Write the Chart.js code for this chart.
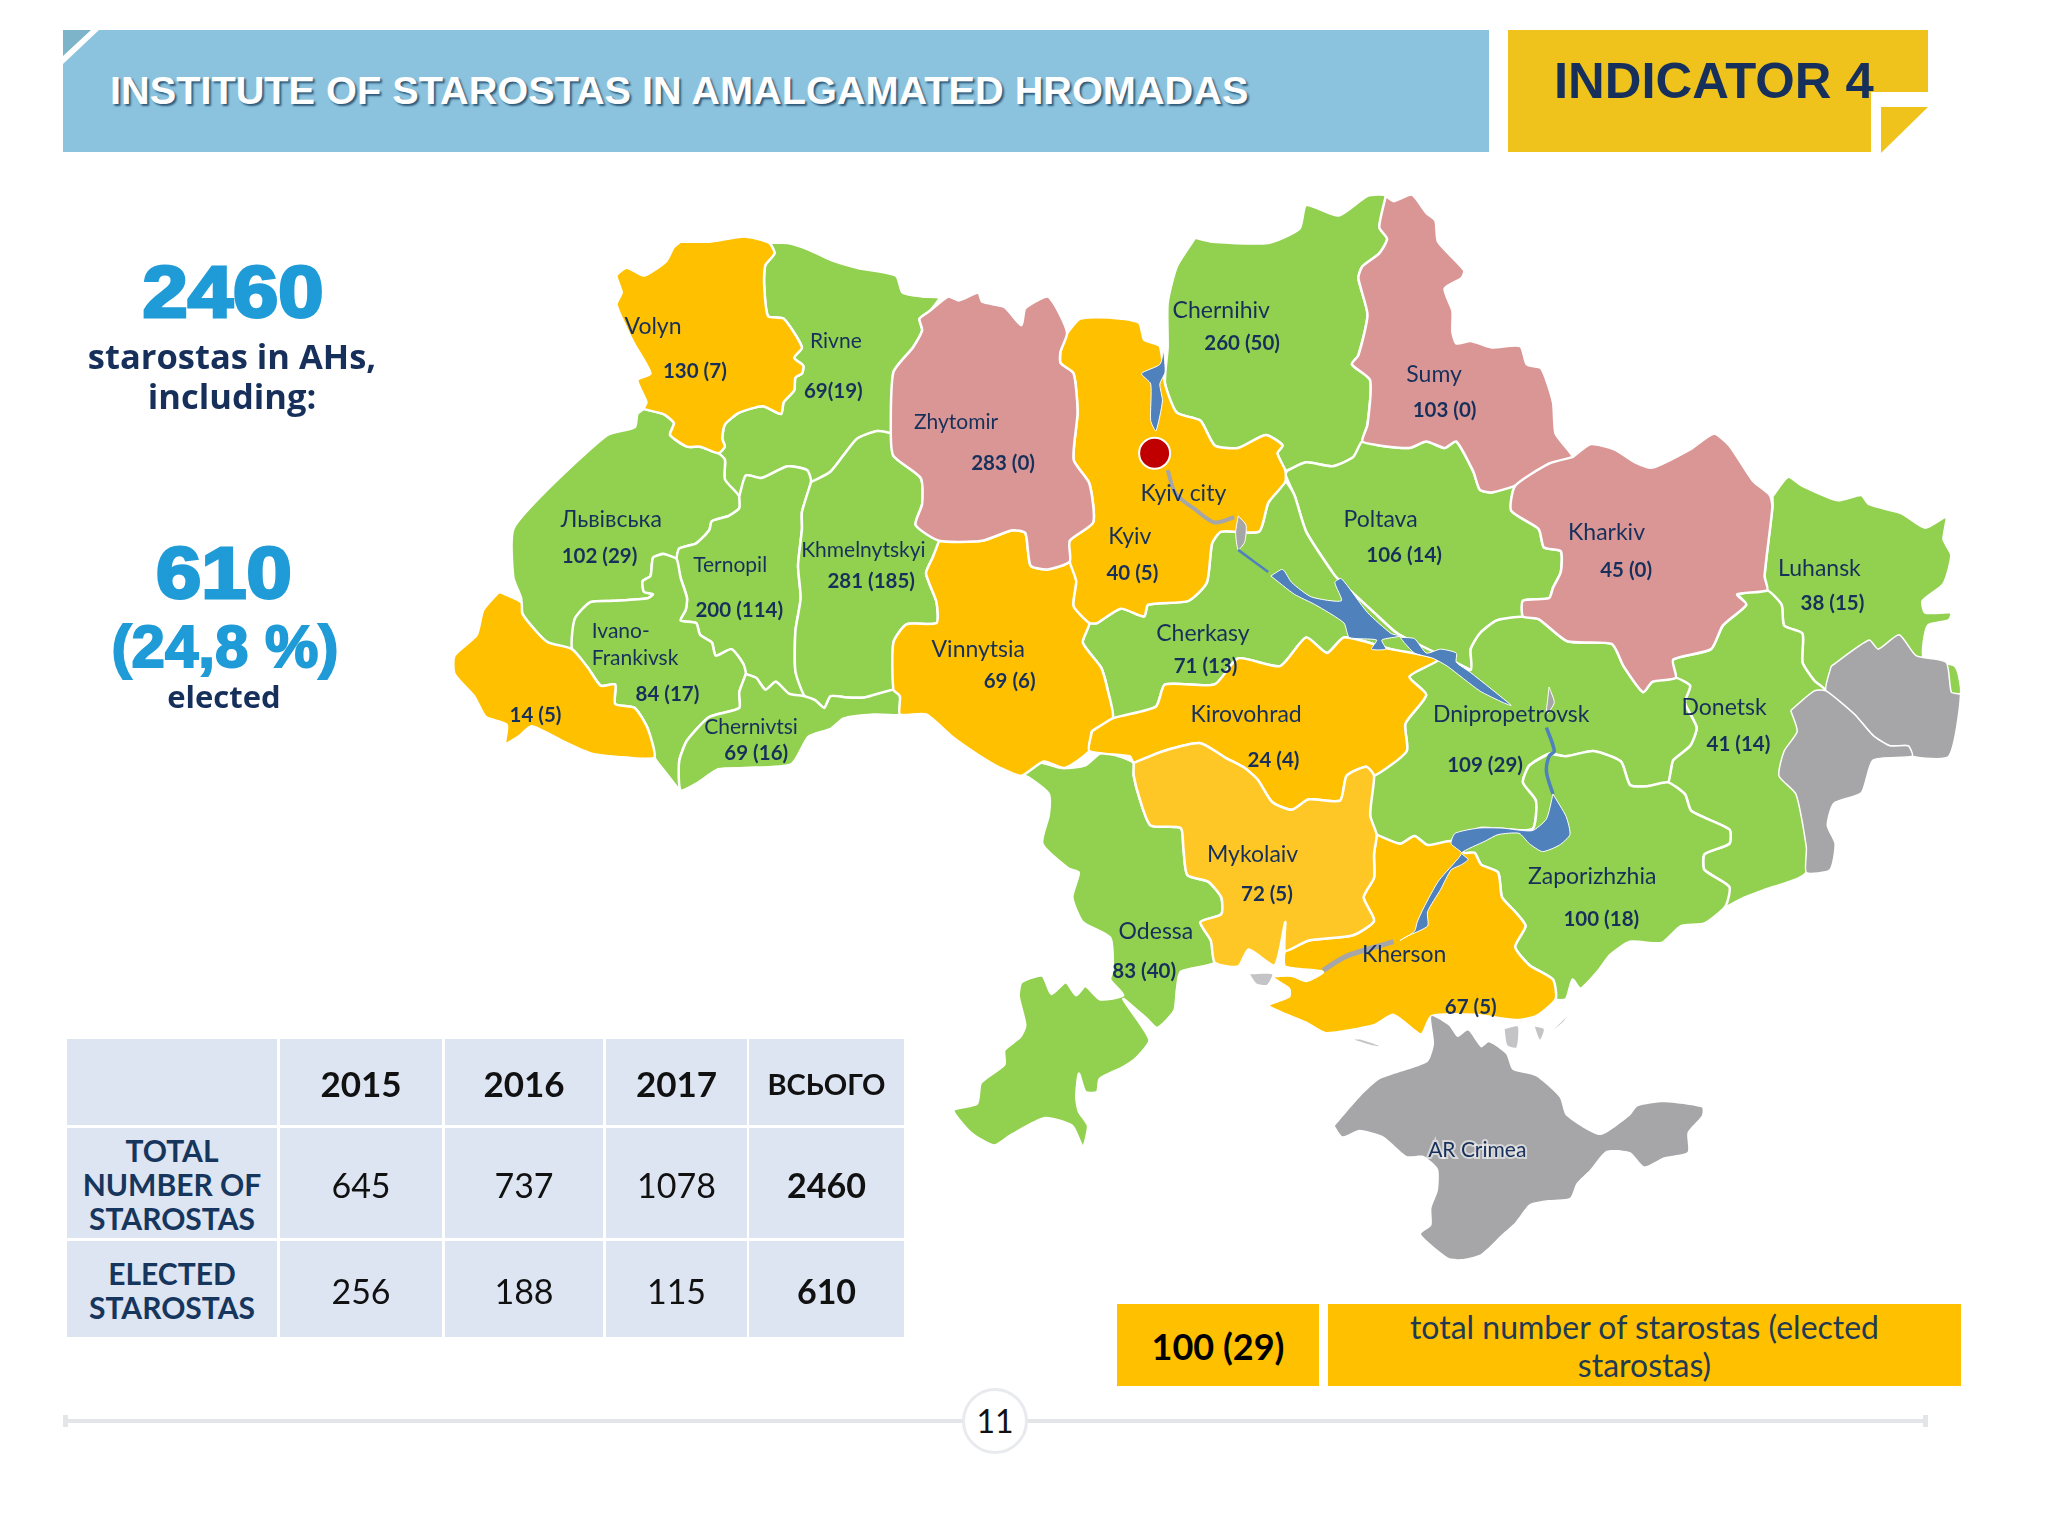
<!DOCTYPE html>
<html>
<head>
<meta charset="utf-8">
<title>Institute of starostas in amalgamated hromadas</title>
<script src="https://cdn.jsdelivr.net/npm/chart.js@4/dist/chart.umd.min.js"></script>
<style>
  html, body { margin: 0; padding: 0; background: #fff; }
  #page { position: relative; width: 2048px; height: 1536px; overflow: hidden; font-family: Lato, sans-serif; }
  #map { position: absolute; left: 0; top: 0; }
  .abs { position: absolute; }
  .head-blue { left: 63px; top: 30px; width: 1426px; height: 122px; background: #8bc3df; }
  .fold-blue { left: 63px; top: 30px; width: 36px; height: 34px; background: #fff; clip-path: polygon(0 0, 100% 0, 0 100%); }
  .fold-blue-in { left: 63px; top: 30px; width: 28px; height: 26px; background: #7db4c9; clip-path: polygon(0 0, 100% 0, 0 100%); }
  .title { left: 110px; top: 68px; font: bold 39.7px "Liberation Sans", sans-serif; color: #fff; text-shadow: 2px 2px 2px #2f5a78; white-space: nowrap; }
  .head-yellow { left: 1508px; top: 30px; width: 420px; height: 62px; background: #efc31b; }
  .head-yellow2 { left: 1508px; top: 92px; width: 363px; height: 60px; background: #efc31b; }
  .fold-yellow { left: 1881px; top: 107px; width: 47px; height: 46px; background: #efc31b; clip-path: polygon(0 0, 100% 0, 0 100%); }
  .indicator { left: 1554px; top: 51px; font: bold 50.8px "Liberation Sans", sans-serif; color: #17305b; white-space: nowrap; }
  .big { font: bold 72px "Liberation Sans", sans-serif; color: #1f9bd7; -webkit-text-stroke: 3px #1f9bd7; text-align: center; white-space: nowrap; }
  .wide { transform: scaleX(1.13); }
  .navy { font: bold 34.5px "Open Sans", sans-serif; color: #17305b; text-align: center; white-space: nowrap; line-height: 40px; }
  #stats { left: 67px; top: 1039px; width: 837px; height: 298px; }
  .cell { position: absolute; box-sizing: border-box; padding-top: 2px; background: #dde5f2; display: flex; align-items: center; justify-content: center; text-align: center; font-size: 34px; color: #111; }
  .cell.year { font-weight: bold; font-size: 35px; }
  .cell.sum { font-weight: bold; }
  .cell.row { font-weight: bold; font-size: 30px; line-height: 34px; color: #17365d; }
  .key { background: #ffc000; box-sizing: border-box; padding-top: 2px; display: flex; align-items: center; justify-content: center; text-align: center; }
  .foot { top: 1419px; height: 4px; background: #e3e5e8; }
  .cap { top: 1415px; width: 5px; height: 12px; background: #e3e5e8; }
  .page-no { left: 962px; top: 1388px; width: 60px; height: 60px; border: 3px solid #e8eaed; border-radius: 50%; background: #fff; text-align: center; line-height: 60px; font-size: 32px; color: #111; }
</style>
</head>
<body>
<div id="page">
  <canvas id="map" width="2048" height="1536"></canvas>

  <div class="abs head-blue"></div>
  <div class="abs fold-blue"></div>
  <div class="abs fold-blue-in"></div>
  <div class="abs title">INSTITUTE OF STAROSTAS IN AMALGAMATED HROMADAS</div>
  <div class="abs head-yellow"></div>
  <div class="abs head-yellow2"></div>
  <div class="abs fold-yellow"></div>
  <div class="abs indicator">INDICATOR 4</div>

  <div class="abs big wide" style="left:133px;top:251px;width:200px" id="totalBig"></div>
  <div class="abs navy" style="left:82px;top:336px;width:300px">starostas in AHs,<br>including:</div>
  <div class="abs big wide" style="left:124px;top:532px;width:200px" id="electedBig"></div>
  <div class="abs big" style="left:105px;top:612px;width:240px;font-size:60px;-webkit-text-stroke-width:2px">(24,8 %)</div>
  <div class="abs navy" style="left:124px;top:676px;width:200px;font-size:31px">elected</div>

  <div class="abs" id="stats"></div>

  <div class="abs key" style="left:1117px;top:1304px;width:202px;height:82px;font-weight:bold;font-size:36px;color:#000">100 (29)</div>
  <div class="abs key" style="left:1328px;top:1304px;width:633px;height:82px;font-size:32px;line-height:38px;color:#1f3a52">total number of starostas (elected<br>starostas)</div>

  <div class="abs foot" style="left:64px;width:900px"></div>
  <div class="abs foot" style="left:1024px;width:904px"></div>
  <div class="abs cap" style="left:63px"></div>
  <div class="abs cap" style="left:1923px"></div>
  <div class="abs page-no">11</div>
</div>

<script>
// Table values
const years = ['2015', '2016', '2017', 'ВСЬОГО'];
const totalByYear = [645, 737, 1078, 2460];
const electedByYear = [256, 188, 115, 610];

// Regions: name, total starostas, elected starostas
const regionNames = ['Volyn', 'Rivne', 'Zhytomir', 'Львівська', 'Ternopil', 'Khmelnytskyi', 'Ivano-\nFrankivsk', '', 'Chernivtsi', 'Vinnytsia', 'Kyiv', 'Chernihiv', 'Sumy', 'Poltava', 'Kharkiv', 'Luhansk', 'Cherkasy', 'Kirovohrad', 'Dnipropetrovsk', 'Donetsk', 'Mykolaiv', 'Odessa', 'Kherson', 'Zaporizhzhia'];
const totals = [130, 69, 283, 102, 200, 281, 84, 14, 69, 69, 40, 260, 103, 106, 45, 38, 71, 24, 109, 41, 72, 83, 67, 100];
const elected = [7, 19, 0, 29, 114, 185, 17, 5, 16, 6, 5, 50, 0, 14, 0, 15, 13, 4, 29, 14, 5, 40, 5, 18];

// Map outlines
const volyn = [[521,185],[543,185],[570,181],[589,186],[593,194],[586,203],[585,217],[588,242],[600,244],[614,266],[608,274],[615,280],[614,286],[609,289],[608,299],[600,308],[598,317],[584,311],[566,316],[555,325],[553,336],[555,342],[550,347],[536,342],[526,342],[513,333],[516,324],[508,317],[493,313],[495,308],[488,291],[498,286],[486,264],[480,252],[472,233],[476,224],[472,211],[480,205],[493,211],[510,200],[516,189]];
const rivne = [[589,186],[603,186],[619,191],[636,199],[656,205],[686,211],[691,224],[706,227],[719,228],[712,238],[704,244],[706,253],[699,266],[684,285],[684,333],[672,330],[656,336],[636,361],[621,369],[618,360],[603,357],[583,366],[571,364],[566,380],[555,367],[555,352],[550,347],[555,342],[553,336],[555,325],[566,316],[584,311],[598,317],[600,308],[608,299],[609,289],[614,286],[615,280],[608,274],[614,266],[600,244],[588,242],[585,217],[586,203],[593,194]];
const zhytomir = [[712,238],[726,227],[734,230],[749,224],[752,231],[769,235],[782,249],[785,236],[802,227],[809,236],[817,255],[812,269],[812,278],[822,286],[825,316],[822,352],[834,370],[837,400],[819,414],[819,430],[802,436],[789,433],[785,408],[775,406],[752,414],[719,414],[701,402],[706,386],[705,366],[684,349],[682,330],[684,285],[699,266],[706,253],[704,244]];
const lviv = [[493,313],[508,317],[516,324],[513,333],[526,342],[536,342],[550,347],[555,352],[555,367],[566,380],[566,389],[558,395],[545,399],[543,406],[533,416],[520,420],[518,428],[508,424],[500,427],[498,441],[492,445],[493,453],[500,455],[496,458],[470,460],[452,461],[440,474],[438,497],[420,492],[412,485],[400,470],[399,458],[393,442],[393,405],[420,374],[465,333],[486,327],[488,317]];
const zakarpattia = [[382,453],[399,461],[400,470],[412,485],[420,492],[438,497],[450,511],[460,525],[471,524],[471,539],[486,542],[496,558],[501,580],[480,580],[453,577],[430,567],[407,556],[397,564],[387,569],[388,555],[372,549],[363,533],[348,516],[348,502],[365,486],[370,467]];
const ivanoFrankivsk = [[508,424],[518,428],[521,442],[526,458],[525,467],[521,475],[533,477],[536,486],[545,492],[548,502],[560,497],[569,508],[571,516],[566,530],[566,542],[543,549],[526,567],[520,583],[521,605],[510,592],[501,580],[496,558],[486,542],[471,539],[471,524],[460,525],[450,511],[438,497],[440,474],[452,461],[470,460],[496,458],[500,455],[493,453],[492,445],[498,441],[500,427]];
const ternopil = [[566,380],[571,364],[583,366],[603,357],[618,360],[621,369],[614,392],[614,405],[611,433],[613,458],[609,483],[609,514],[616,533],[604,531],[594,522],[586,528],[579,519],[571,516],[569,508],[560,497],[548,502],[545,492],[536,486],[533,477],[521,475],[525,467],[526,458],[521,442],[518,428],[520,420],[533,416],[543,406],[545,399],[558,395],[566,389]];
const khmelnytskyi = [[621,369],[636,361],[656,336],[672,330],[684,333],[684,349],[705,366],[706,386],[701,402],[719,414],[714,427],[709,439],[717,461],[717,477],[694,478],[684,492],[684,528],[662,534],[648,534],[636,533],[631,542],[624,536],[616,533],[609,514],[609,483],[613,458],[611,433],[614,405],[614,392]];
const chernivtsi = [[571,516],[579,519],[586,528],[594,522],[604,531],[616,533],[624,536],[631,542],[636,533],[648,534],[662,534],[684,528],[689,533],[689,547],[669,547],[646,550],[636,558],[619,564],[606,585],[570,588],[550,589],[533,600],[521,605],[520,583],[526,567],[543,549],[566,542],[566,530]];
const vinnytsia = [[719,414],[752,414],[775,406],[785,408],[789,433],[802,436],[819,430],[824,445],[822,464],[834,477],[829,492],[843,511],[848,528],[852,550],[836,560],[834,575],[815,588],[799,583],[782,594],[766,588],[749,578],[729,564],[709,547],[689,547],[689,533],[684,528],[684,492],[694,478],[717,477],[717,461],[709,439],[714,427]];
const kyiv = [[817,255],[827,244],[849,243],[872,247],[876,260],[888,265],[892,294],[901,316],[919,322],[930,341],[948,343],[969,333],[982,341],[978,347],[984,360],[984,369],[971,385],[964,407],[935,407],[928,416],[924,446],[910,460],[879,463],[876,472],[858,466],[840,477],[834,477],[822,464],[824,445],[819,430],[819,414],[837,400],[834,370],[822,352],[825,316],[822,286],[812,278],[812,269]];
const chernihiv = [[915,182],[928,185],[971,186],[995,175],[1000,157],[1025,165],[1047,150],[1061,150],[1056,174],[1062,183],[1056,194],[1043,204],[1040,213],[1047,241],[1040,272],[1035,279],[1049,291],[1047,325],[1043,338],[1036,350],[1020,357],[1000,354],[986,360],[984,360],[978,347],[982,341],[969,333],[948,343],[930,341],[919,322],[901,316],[892,294],[894,266],[894,232],[901,204]];
const sumy = [[1061,150],[1067,154],[1081,149],[1092,163],[1099,169],[1101,185],[1121,207],[1119,213],[1106,221],[1112,238],[1112,254],[1115,263],[1126,261],[1142,266],[1164,265],[1169,279],[1180,282],[1189,308],[1191,332],[1204,350],[1186,355],[1162,371],[1142,377],[1133,375],[1128,361],[1115,338],[1106,343],[1092,338],[1079,343],[1056,341],[1043,338],[1047,325],[1049,291],[1035,279],[1040,272],[1047,241],[1040,213],[1043,204],[1056,194],[1062,183],[1056,174]];
const poltava = [[986,360],[1000,354],[1020,357],[1036,350],[1043,338],[1056,341],[1079,343],[1092,338],[1106,343],[1115,338],[1128,361],[1133,375],[1142,377],[1160,372],[1157,391],[1178,405],[1182,419],[1195,422],[1195,438],[1189,450],[1186,458],[1166,460],[1166,472],[1146,475],[1133,485],[1126,497],[1126,513],[1070,485],[1052,469],[1025,444],[1020,438],[1000,407],[991,379],[984,363]];
const kharkiv = [[1204,350],[1218,340],[1236,344],[1252,354],[1265,358],[1294,344],[1312,332],[1324,341],[1342,368],[1355,379],[1357,388],[1351,441],[1353,452],[1330,455],[1337,463],[1319,479],[1310,497],[1281,505],[1283,519],[1265,522],[1258,530],[1243,510],[1234,493],[1200,491],[1178,474],[1166,472],[1166,460],[1186,458],[1189,450],[1195,438],[1195,422],[1182,419],[1178,405],[1157,391],[1160,372],[1186,355]];
const luhansk = [[1357,380],[1369,365],[1380,372],[1407,383],[1425,379],[1431,386],[1456,393],[1474,404],[1490,396],[1488,413],[1494,425],[1488,447],[1472,460],[1474,469],[1494,469],[1492,475],[1476,479],[1473,504],[1497,510],[1500,532],[1398,529],[1389,521],[1380,507],[1380,485],[1366,479],[1364,463],[1353,452],[1351,441],[1357,388]];
const donetsk = [[1330,455],[1353,452],[1364,463],[1366,479],[1380,485],[1380,507],[1389,521],[1398,529],[1400,560],[1383,668],[1352,681],[1334,688],[1321,694],[1324,679],[1305,666],[1305,654],[1324,646],[1324,635],[1295,621],[1290,608],[1277,599],[1279,591],[1281,582],[1294,571],[1299,557],[1290,538],[1294,525],[1283,519],[1281,505],[1310,497],[1319,479],[1337,463]];
const cherkasy = [[834,477],[840,477],[858,466],[876,472],[879,463],[910,460],[924,446],[928,416],[935,407],[964,407],[971,385],[984,369],[991,379],[1000,407],[1020,438],[1025,444],[1052,469],[1070,485],[1126,513],[1101,505],[1065,497],[1029,488],[1016,500],[1000,488],[980,510],[948,504],[930,524],[892,524],[885,541],[852,550],[848,528],[843,511],[829,492]];
const kirovohrad = [[836,560],[852,550],[885,541],[892,524],[930,524],[948,504],[980,510],[1000,488],[1016,500],[1029,488],[1065,497],[1101,505],[1079,518],[1092,532],[1076,554],[1077,575],[1052,594],[1046,587],[1031,594],[1026,613],[1002,612],[989,620],[974,614],[963,597],[953,588],[938,580],[919,569],[891,575],[868,584],[865,579],[834,575]];
const dnipropetrovsk = [[1101,505],[1126,513],[1126,497],[1133,485],[1146,475],[1166,472],[1178,474],[1200,491],[1234,493],[1243,510],[1258,530],[1265,522],[1283,519],[1294,525],[1290,538],[1299,557],[1294,571],[1281,582],[1279,591],[1277,599],[1261,602],[1248,601],[1241,583],[1220,575],[1199,579],[1186,577],[1171,586],[1166,599],[1176,613],[1173,635],[1134,634],[1111,644],[1093,647],[1083,640],[1072,646],[1054,639],[1049,624],[1052,594],[1077,575],[1076,554],[1092,532],[1079,518]];
const zaporizhzhia = [[1186,577],[1199,579],[1220,575],[1241,583],[1248,601],[1261,602],[1277,599],[1290,608],[1295,621],[1324,635],[1324,646],[1305,654],[1305,666],[1324,679],[1321,694],[1305,707],[1287,709],[1272,722],[1248,721],[1233,731],[1223,744],[1210,757],[1204,750],[1199,765],[1191,765],[1189,750],[1171,739],[1160,725],[1168,709],[1160,698],[1150,687],[1147,668],[1134,662],[1129,653],[1121,653],[1111,644],[1134,634],[1173,635],[1176,613],[1166,599],[1171,586]];
const kherson = [[1054,639],[1072,646],[1083,640],[1093,647],[1111,644],[1121,653],[1129,653],[1134,662],[1147,668],[1150,687],[1160,698],[1168,709],[1160,725],[1171,739],[1189,750],[1191,765],[1176,778],[1160,781],[1129,777],[1096,778],[1088,792],[1067,777],[1052,785],[1015,791],[1000,783],[971,770],[987,763],[987,757],[974,748],[989,747],[1000,751],[1013,744],[984,740],[984,728],[1002,720],[1036,716],[1052,705],[1044,687],[1052,672],[1052,654]];
const mykolaiv = [[868,584],[891,575],[919,569],[938,580],[953,588],[963,597],[974,614],[989,620],[1002,612],[1026,613],[1031,594],[1046,587],[1052,594],[1049,624],[1054,639],[1052,654],[1052,672],[1044,687],[1052,705],[1036,716],[1002,720],[984,728],[984,706],[976,739],[956,727],[948,740],[930,737],[927,720],[919,706],[935,700],[935,687],[925,675],[909,670],[906,649],[904,634],[881,632],[873,613],[868,594]];
const odessa = [[782,594],[792,583],[813,588],[831,586],[844,576],[868,584],[868,594],[873,613],[881,632],[904,634],[906,649],[909,670],[925,675],[935,687],[935,700],[919,706],[927,720],[930,737],[904,744],[901,758],[899,774],[886,787],[878,780],[860,765],[880,796],[870,810],[860,817],[842,826],[840,836],[831,836],[826,822],[824,840],[826,851],[833,862],[829,878],[821,862],[800,856],[774,869],[761,877],[743,867],[730,850],[748,845],[751,829],[769,815],[769,804],[781,794],[785,785],[780,763],[782,752],[798,747],[805,761],[816,752],[824,762],[831,755],[842,765],[860,762],[850,750],[852,742],[850,718],[829,706],[821,687],[826,668],[818,665],[798,646],[803,624],[803,608],[787,595]];

// Grey areas
const crimea = [[1022,862],[1041,840],[1057,826],[1093,813],[1098,799],[1096,778],[1109,785],[1116,794],[1124,789],[1134,802],[1140,798],[1153,807],[1158,819],[1176,824],[1194,840],[1199,854],[1225,869],[1248,854],[1254,847],[1274,844],[1303,848],[1303,854],[1292,867],[1292,882],[1274,886],[1259,893],[1248,882],[1230,881],[1217,896],[1207,906],[1202,917],[1184,919],[1171,922],[1160,936],[1150,945],[1134,960],[1119,964],[1109,963],[1088,945],[1096,938],[1096,925],[1101,911],[1101,895],[1090,885],[1077,885],[1059,870],[1041,865],[1028,870]];
const luhanskOccupied = [[1402,510],[1431,490],[1438,497],[1454,486],[1467,502],[1490,507],[1494,530],[1501,532],[1492,579],[1464,579],[1461,571],[1447,571],[1434,563],[1420,547],[1398,529]];
const donetskOccupied = [[1371,544],[1389,529],[1398,529],[1420,547],[1434,563],[1447,571],[1461,571],[1464,579],[1434,582],[1425,607],[1404,615],[1399,632],[1405,646],[1401,666],[1383,668],[1383,649],[1375,608],[1362,594],[1366,575],[1376,560]];
const shoalOne = [[957,746],[974,746],[970,754],[962,753]];
const shoalTwo = [[1037,796],[1050,800],[1056,801],[1054,800],[1042,796]];
const shoalThree = [[1152,788],[1162,786],[1161,802],[1154,800]];
const shoalFour = [[1175,786],[1182,788],[1179,796]];
const shoalFive = [[1190,788],[1199,779],[1197,782]];
const reservoirLens = [[948,395],[954,402],[953,415],[948,421],[946,408]];
const dniproLens = [[1186,526],[1190,538],[1184,547],[1185,535]];

// Water
const kyivReservoir = [[891,268],[888,279],[874,286],[881,294],[881,322],[885,330],[890,307],[888,294],[892,285]];
const kremenchukReservoir = [[973,441],[982,436],[989,446],[1004,457],[1027,460],[1022,446],[1027,443],[1047,469],[1065,485],[1072,487],[1058,490],[1061,497],[1050,497],[1054,490],[1033,488],[1029,477],[1007,463],[991,455]];
const kamianskeReservoir = [[1072,488],[1083,489],[1092,500],[1103,497],[1115,500],[1115,507],[1126,515],[1157,540],[1151,538],[1133,529],[1108,510],[1097,504],[1083,500],[1076,493]];
const kakhovkaReservoir = [[1189,608],[1199,625],[1202,639],[1194,647],[1181,652],[1171,646],[1163,638],[1147,639],[1137,644],[1119,653],[1124,658],[1119,662],[1111,666],[1103,681],[1093,698],[1093,709],[1077,717],[1072,720],[1083,713],[1085,706],[1090,695],[1101,675],[1114,660],[1119,653],[1111,646],[1114,638],[1132,634],[1150,634],[1173,636],[1184,627]];
const dniproUpper = [[1184,557],[1190,575],[1186,579],[1184,591],[1189,608]];
const dniproThin = [[948,421],[971,438]];
const kyivStream = [[894,360],[900,378],[915,390],[930,400],[945,396]];
const khersonStream = [[1013,743],[1031,732],[1067,721]];
const arabatSpit = [[1196,836],[1210,855],[1226,868]];

const capital = [[884,347]];

// Label anchors in the same map units, by region order
const nameAnchors = [[500,250],[640,261],[732,323],[468,398],[559,433],[661,421],[453,494],[0,0],[575,557],[749,497],[865,411],[935,238],[1098,287],[1057,398],[1230,408],[1393,435],[921,485],[954,547],[1157,547],[1320,542],[959,654],[885,713],[1075,731],[1219,671]];
const valueAnchors = [[532,284],[638,300],[768,355],[459,426],[566,467],[667,445],[511,532],[410,548],[579,577],[773,522],[867,439],[951,263],[1106,314],[1075,425],[1245,437],[1403,462],[923,510],[975,582],[1137,586],[1331,570],[970,685],[876,744],[1126,771],[1226,704]];

const GREEN = '#92d050', YELLOW = '#ffc000', PINK = '#d99694', GREY = '#a6a6a8', BLUE = '#4f81bd', PALE = '#c4c4c6', MYK = '#ffc726';

function outline(points, color, borderColor, borderWidth) {
  const closed = points.concat([points[0]]);
  return {
    data: closed.map(p => ({ x: p[0], y: p[1] })),
    showLine: true,
    fill: 'shape',
    backgroundColor: color,
    borderColor: borderColor,
    borderWidth: borderWidth,
    pointRadius: 0,
    tension: 0.2
  };
}

function stroke(points, color, width) {
  return {
    data: points.map(p => ({ x: p[0], y: p[1] })),
    showLine: true,
    fill: false,
    borderColor: color,
    borderWidth: width,
    pointRadius: 0,
    tension: 0.3
  };
}

const WHITE = '#ffffff';
const layers = [
  outline(rivne, GREEN, WHITE, 2.5),
  outline(lviv, GREEN, WHITE, 2.5),
  outline(ternopil, GREEN, WHITE, 2.5),
  outline(khmelnytskyi, GREEN, WHITE, 2.5),
  outline(ivanoFrankivsk, GREEN, WHITE, 2.5),
  outline(chernivtsi, GREEN, WHITE, 2.5),
  outline(chernihiv, GREEN, WHITE, 2.5),
  outline(poltava, GREEN, WHITE, 2.5),
  outline(luhansk, GREEN, WHITE, 2.5),
  outline(donetsk, GREEN, WHITE, 2.5),
  outline(cherkasy, GREEN, WHITE, 2.5),
  outline(dnipropetrovsk, GREEN, WHITE, 2.5),
  outline(zaporizhzhia, GREEN, WHITE, 2.5),
  outline(odessa, GREEN, WHITE, 2.5),
  outline(volyn, YELLOW, WHITE, 2.5),
  outline(zakarpattia, YELLOW, WHITE, 2.5),
  outline(vinnytsia, YELLOW, WHITE, 2.5),
  outline(kyiv, YELLOW, WHITE, 2.5),
  outline(kirovohrad, YELLOW, WHITE, 2.5),
  outline(kherson, YELLOW, WHITE, 2.5),
  outline(mykolaiv, MYK, WHITE, 2.5),
  outline(zhytomir, PINK, WHITE, 2.5),
  outline(sumy, PINK, WHITE, 2.5),
  outline(kharkiv, PINK, WHITE, 2.5),
  outline(crimea, GREY, GREY, 0),
  outline(luhanskOccupied, GREY, WHITE, 1.5),
  outline(donetskOccupied, GREY, WHITE, 1.5),
  outline(shoalOne, PALE, PALE, 0),
  outline(shoalTwo, PALE, PALE, 0),
  outline(shoalThree, PALE, PALE, 0),
  outline(shoalFour, PALE, PALE, 0),
  outline(shoalFive, PALE, PALE, 0),
  stroke(arabatSpit, '#ffffff', 3),
  stroke(kyivStream, GREY, 4),
  stroke(khersonStream, GREY, 5),
  outline(reservoirLens, GREY, WHITE, 1),
  outline(dniproLens, GREY, WHITE, 1),
  stroke(dniproThin, BLUE, 2.5),
  stroke(dniproUpper, BLUE, 3.5),
  outline(kyivReservoir, BLUE, WHITE, 1),
  outline(kremenchukReservoir, BLUE, WHITE, 1),
  outline(kamianskeReservoir, BLUE, WHITE, 1),
  outline(kakhovkaReservoir, BLUE, WHITE, 1),
  {
    data: capital.map(p => ({ x: p[0], y: p[1] })),
    pointRadius: 15.5,
    pointBackgroundColor: '#c00000',
    pointBorderColor: '#ffffff',
    pointBorderWidth: 2,
    showLine: false
  }
];
layers.forEach((l, i) => { l.order = -i; });

const SMALL_NAMES = ['Rivne', 'Zhytomir', 'Ternopil', 'Khmelnytskyi', 'Ivano-\nFrankivsk', 'Chernivtsi'];

const mapLabels = {
  id: 'mapLabels',
  afterDatasetsDraw(chart) {
    const { ctx, scales: { x, y } } = chart;
    ctx.save();
    ctx.textBaseline = 'middle';
    ctx.fillStyle = '#17305b';
    regionNames.forEach((name, i) => {
      if (name) {
        ctx.font = (SMALL_NAMES.includes(name) ? '21px' : '23px') + ' Lato';
        const lines = name.split('\n');
        // the two-line Ivano-Frankivsk label is left aligned in the picture
        ctx.textAlign = lines.length > 1 ? 'left' : 'center';
        lines.forEach((line, n) => {
          const py = y.getPixelForValue(nameAnchors[i][1]) + (n - (lines.length - 1) / 2) * 27;
          ctx.fillText(line, x.getPixelForValue(nameAnchors[i][0]), py);
        });
      }
      ctx.textAlign = 'center';
      ctx.font = 'bold 20.5px Lato';
      const gap = name === 'Rivne' ? '' : ' ';
      ctx.fillText(totals[i] + gap + '(' + elected[i] + ')', x.getPixelForValue(valueAnchors[i][0]), y.getPixelForValue(valueAnchors[i][1]));
    });
    ctx.font = '23px Lato';
    ctx.fillText('Kyiv city', x.getPixelForValue(906), y.getPixelForValue(378));
    ctx.lineWidth = 4;
    ctx.strokeStyle = 'rgba(255,255,255,0.55)';
    ctx.font = '21px Lato';
    ctx.strokeText('AR Crimea', x.getPixelForValue(1131), y.getPixelForValue(881));
    ctx.fillText('AR Crimea', x.getPixelForValue(1131), y.getPixelForValue(881));
    ctx.restore();
  }
};

new Chart(document.getElementById('map').getContext('2d'), {
  type: 'scatter',
  data: { datasets: layers },
  plugins: [mapLabels],
  options: {
    responsive: false,
    animation: false,
    layout: { padding: 0, autoPadding: false },
    plugins: { legend: { display: false }, tooltip: { enabled: false } },
    scales: {
      x: { type: 'linear', min: 0, max: 1568, display: false },
      y: { type: 'linear', min: 0, max: 1176, reverse: true, display: false }
    }
  }
});

// Headline numbers and table
document.getElementById('totalBig').textContent = totalByYear[3];
document.getElementById('electedBig').textContent = electedByYear[3];

function renderTable() {
  const colX = [[0, 210], [213, 162], [378, 158], [539, 141], [682, 155]];
  const rowY = [[0, 86], [89, 110], [202, 96]];
  const rows = [
    [''].concat(years),
    ['TOTAL<br>NUMBER OF<br>STAROSTAS'].concat(totalByYear),
    ['ELECTED<br>STAROSTAS'].concat(electedByYear)
  ];
  const stats = document.getElementById('stats');
  rows.forEach((row, r) => {
    row.forEach((text, c) => {
      const cell = document.createElement('div');
      cell.className = 'cell' + (r === 0 ? ' year' : c === 0 ? ' row' : c === 4 ? ' sum' : '');
      cell.style.left = colX[c][0] + 'px';
      cell.style.width = colX[c][1] + 'px';
      cell.style.top = rowY[r][0] + 'px';
      cell.style.height = rowY[r][1] + 'px';
      cell.innerHTML = text;
      if (r === 0 && c === 4) cell.style.fontSize = '29px';
      stats.appendChild(cell);
    });
  });
}
renderTable();
</script>
</body>
</html>
